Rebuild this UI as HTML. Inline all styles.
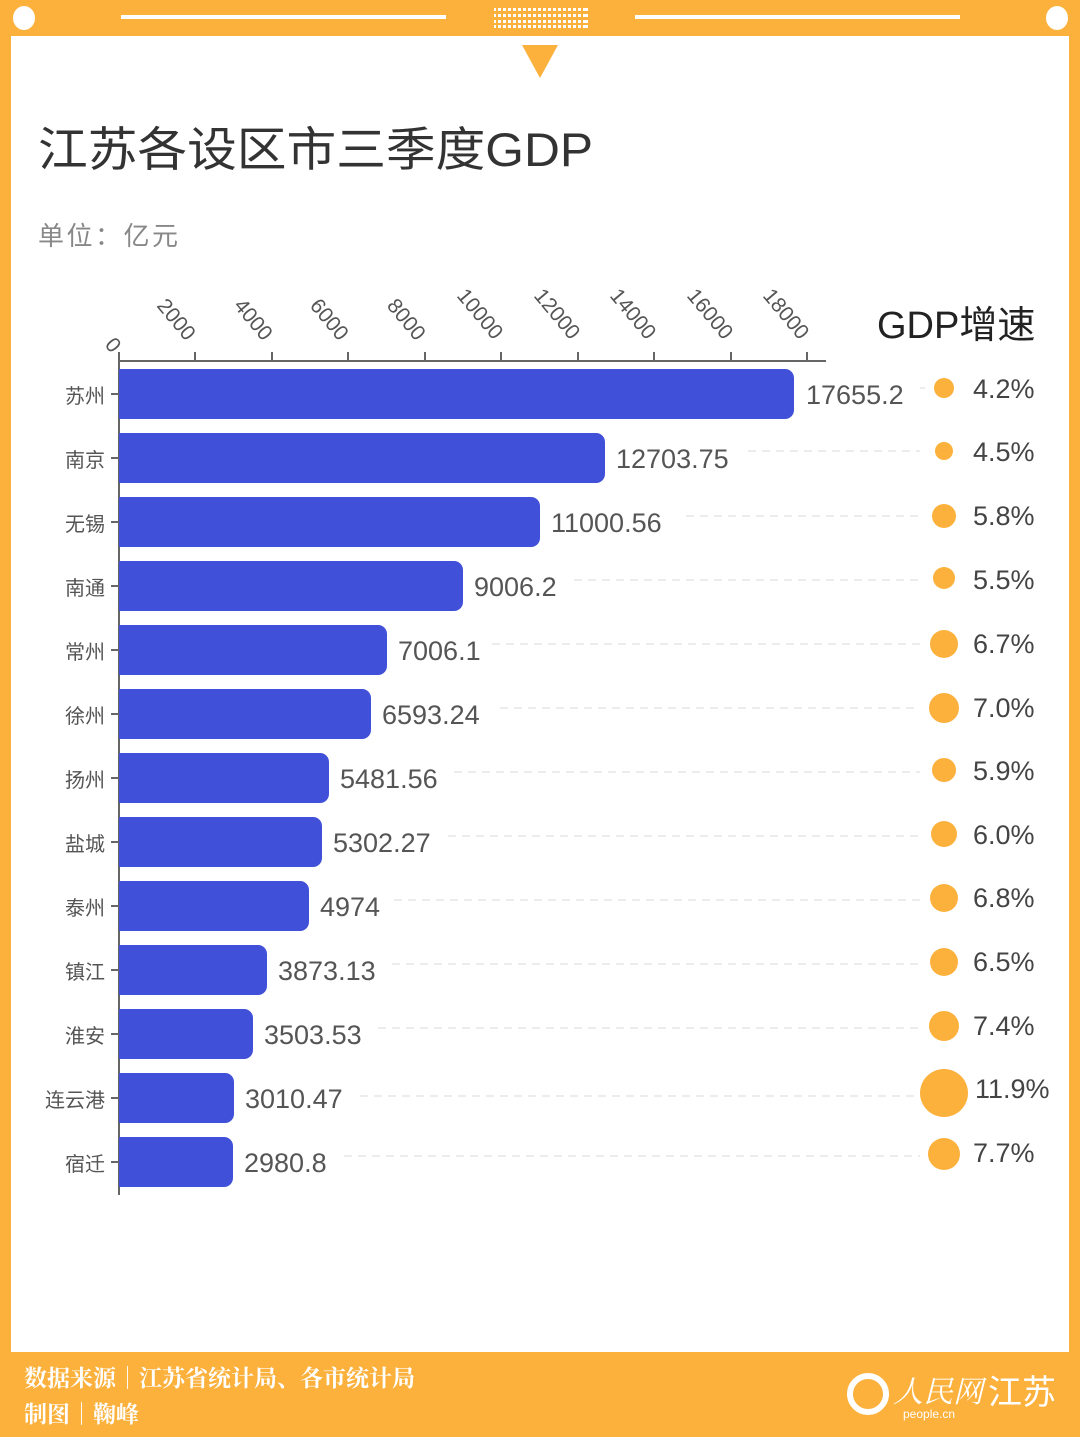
<!DOCTYPE html>
<html><head><meta charset="utf-8"><style>
body{margin:0;width:1080px;height:1437px;overflow:hidden;background:#fff;}
</style></head><body>
<svg width="1080" height="1437" xmlns="http://www.w3.org/2000/svg" style="font-family:'Liberation Sans','Noto Sans CJK SC',sans-serif">
<rect x="0" y="0" width="1080" height="1437" fill="#fbb13c"/>
<rect x="11" y="36" width="1058" height="1316" fill="#fff"/>
<ellipse cx="24" cy="18" rx="11" ry="12" fill="#fff"/>
<ellipse cx="1057" cy="18" rx="11" ry="12" fill="#fff"/>
<rect x="121" y="15" width="325" height="4" fill="#fff"/>
<rect x="635" y="15" width="325" height="4" fill="#fff"/>
<g fill="#fff">
<rect x="494" y="8" width="94" height="3"/><rect x="494" y="14" width="94" height="3"/><rect x="494" y="20" width="94" height="3"/><rect x="494" y="25" width="94" height="3"/>
</g>
<g stroke="#fbb13c" stroke-width="2">
<line x1="497" y1="6" x2="497" y2="30"/><line x1="502" y1="6" x2="502" y2="30"/><line x1="507" y1="6" x2="507" y2="30"/><line x1="512" y1="6" x2="512" y2="30"/><line x1="517" y1="6" x2="517" y2="30"/><line x1="522" y1="6" x2="522" y2="30"/><line x1="527" y1="6" x2="527" y2="30"/><line x1="532" y1="6" x2="532" y2="30"/><line x1="537" y1="6" x2="537" y2="30"/><line x1="542" y1="6" x2="542" y2="30"/><line x1="547" y1="6" x2="547" y2="30"/><line x1="552" y1="6" x2="552" y2="30"/><line x1="557" y1="6" x2="557" y2="30"/><line x1="562" y1="6" x2="562" y2="30"/><line x1="567" y1="6" x2="567" y2="30"/><line x1="572" y1="6" x2="572" y2="30"/><line x1="577" y1="6" x2="577" y2="30"/><line x1="582" y1="6" x2="582" y2="30"/>
</g>
<polygon points="522,45 558,45 540,78" fill="#fbb13c"/>
<text x="38" y="166" font-size="47" fill="#333" textLength="555" lengthAdjust="spacingAndGlyphs">江苏各设区市三季度GDP</text>
<text x="38" y="245" font-size="26" fill="#888" textLength="140">单位：亿元</text>
<text x="877" y="338" font-size="38" fill="#222">GDP增速</text>
<line x1="119" y1="361" x2="826" y2="361" stroke="#666" stroke-width="2"/>
<line x1="119" y1="361" x2="119" y2="1195" stroke="#666" stroke-width="2"/>
<g stroke="#666" stroke-width="2">
<line x1="119" y1="352" x2="119" y2="361"/><line x1="195" y1="352" x2="195" y2="361"/><line x1="272" y1="352" x2="272" y2="361"/><line x1="348" y1="352" x2="348" y2="361"/><line x1="425" y1="352" x2="425" y2="361"/><line x1="501" y1="352" x2="501" y2="361"/><line x1="578" y1="352" x2="578" y2="361"/><line x1="654" y1="352" x2="654" y2="361"/><line x1="731" y1="352" x2="731" y2="361"/><line x1="807" y1="352" x2="807" y2="361"/>
</g>
<g font-size="21" fill="#555">
<text transform="translate(104,345) rotate(50)">0</text>
<text transform="translate(156,306) rotate(50)">2000</text>
<text transform="translate(233,306) rotate(50)">4000</text>
<text transform="translate(309,306) rotate(50)">6000</text>
<text transform="translate(386,306) rotate(50)">8000</text>
<text transform="translate(456,296) rotate(50)">10000</text>
<text transform="translate(533,296) rotate(50)">12000</text>
<text transform="translate(609,296) rotate(50)">14000</text>
<text transform="translate(686,296) rotate(50)">16000</text>
<text transform="translate(762,296) rotate(50)">18000</text>
</g>
<g stroke="#d8d8d8" stroke-width="1" stroke-dasharray="8,6">
<line x1="925" y1="388" x2="920" y2="388"/>
<line x1="748" y1="451" x2="920" y2="451"/>
<line x1="686" y1="516" x2="920" y2="516"/>
<line x1="574" y1="580" x2="920" y2="580"/>
<line x1="492" y1="644" x2="920" y2="644"/>
<line x1="500" y1="708" x2="920" y2="708"/>
<line x1="454" y1="772" x2="920" y2="772"/>
<line x1="448" y1="836" x2="920" y2="836"/>
<line x1="394" y1="900" x2="920" y2="900"/>
<line x1="392" y1="964" x2="920" y2="964"/>
<line x1="378" y1="1028" x2="920" y2="1028"/>
<line x1="360" y1="1096" x2="920" y2="1096"/>
<line x1="344" y1="1156" x2="920" y2="1156"/>
</g>
<g fill="#4150d8">
<rect x="119" y="369" width="675" height="50" rx="9"/><rect x="119" y="369" width="20" height="50"/>
<rect x="119" y="433" width="486" height="50" rx="9"/><rect x="119" y="433" width="20" height="50"/>
<rect x="119" y="497" width="421" height="50" rx="9"/><rect x="119" y="497" width="20" height="50"/>
<rect x="119" y="561" width="344" height="50" rx="9"/><rect x="119" y="561" width="20" height="50"/>
<rect x="119" y="625" width="268" height="50" rx="9"/><rect x="119" y="625" width="20" height="50"/>
<rect x="119" y="689" width="252" height="50" rx="9"/><rect x="119" y="689" width="20" height="50"/>
<rect x="119" y="753" width="210" height="50" rx="9"/><rect x="119" y="753" width="20" height="50"/>
<rect x="119" y="817" width="203" height="50" rx="9"/><rect x="119" y="817" width="20" height="50"/>
<rect x="119" y="881" width="190" height="50" rx="9"/><rect x="119" y="881" width="20" height="50"/>
<rect x="119" y="945" width="148" height="50" rx="9"/><rect x="119" y="945" width="20" height="50"/>
<rect x="119" y="1009" width="134" height="50" rx="9"/><rect x="119" y="1009" width="20" height="50"/>
<rect x="119" y="1073" width="115" height="50" rx="9"/><rect x="119" y="1073" width="20" height="50"/>
<rect x="119" y="1137" width="114" height="50" rx="9"/><rect x="119" y="1137" width="20" height="50"/>
</g>
<g stroke="#666" stroke-width="2">
<line x1="111" y1="394" x2="119" y2="394"/><line x1="111" y1="458" x2="119" y2="458"/><line x1="111" y1="522" x2="119" y2="522"/><line x1="111" y1="586" x2="119" y2="586"/><line x1="111" y1="650" x2="119" y2="650"/><line x1="111" y1="714" x2="119" y2="714"/><line x1="111" y1="778" x2="119" y2="778"/><line x1="111" y1="842" x2="119" y2="842"/><line x1="111" y1="906" x2="119" y2="906"/><line x1="111" y1="970" x2="119" y2="970"/><line x1="111" y1="1034" x2="119" y2="1034"/><line x1="111" y1="1098" x2="119" y2="1098"/><line x1="111" y1="1162" x2="119" y2="1162"/>
</g>
<g font-size="20" fill="#555" text-anchor="end">
<text x="105" y="403">苏州</text><text x="105" y="467">南京</text><text x="105" y="531">无锡</text><text x="105" y="595">南通</text><text x="105" y="659">常州</text><text x="105" y="723">徐州</text><text x="105" y="787">扬州</text><text x="105" y="851">盐城</text><text x="105" y="915">泰州</text><text x="105" y="979">镇江</text><text x="105" y="1043">淮安</text><text x="105" y="1107">连云港</text><text x="105" y="1171">宿迁</text>
</g>
<g font-size="27" fill="#555">
<text x="806" y="404">17655.2</text>
<text x="616" y="468">12703.75</text>
<text x="551" y="532">11000.56</text>
<text x="474" y="596">9006.2</text>
<text x="398" y="660">7006.1</text>
<text x="382" y="724">6593.24</text>
<text x="340" y="788">5481.56</text>
<text x="333" y="852">5302.27</text>
<text x="320" y="916">4974</text>
<text x="278" y="980">3873.13</text>
<text x="264" y="1044">3503.53</text>
<text x="245" y="1108">3010.47</text>
<text x="244" y="1172">2980.8</text>
</g>
<g fill="#fbb13c">
<circle cx="944" cy="388" r="10"/>
<circle cx="944" cy="451" r="9"/>
<circle cx="944" cy="516" r="12"/>
<circle cx="944" cy="578" r="11"/>
<circle cx="944" cy="644" r="14"/>
<circle cx="944" cy="708" r="15"/>
<circle cx="944" cy="770" r="12"/>
<circle cx="944" cy="834" r="13"/>
<circle cx="944" cy="898" r="14"/>
<circle cx="944" cy="962" r="14"/>
<circle cx="944" cy="1026" r="15"/>
<circle cx="944" cy="1093" r="24"/>
<circle cx="944" cy="1154" r="16"/>
</g>
<g font-size="27" fill="#444">
<text x="973" y="398">4.2%</text>
<text x="973" y="461">4.5%</text>
<text x="973" y="525">5.8%</text>
<text x="973" y="589">5.5%</text>
<text x="973" y="653">6.7%</text>
<text x="973" y="717">7.0%</text>
<text x="973" y="780">5.9%</text>
<text x="973" y="844">6.0%</text>
<text x="973" y="907">6.8%</text>
<text x="973" y="971">6.5%</text>
<text x="973" y="1035">7.4%</text>
<text x="975" y="1098">11.9%</text>
<text x="973" y="1162">7.7%</text>
</g>
<g fill="#fff" font-weight="bold" font-family="'Noto Serif CJK SC','Noto Sans CJK SC',serif">
<text x="24" y="1386" font-size="23">数据来源｜江苏省统计局、各市统计局</text>
<text x="24" y="1422" font-size="23">制图｜鞠峰</text>
</g>
<circle cx="868" cy="1394" r="18" fill="none" stroke="#fff" stroke-width="6"/>
<text x="893" y="1402" font-size="30" fill="#fff" font-style="italic" font-family="'Noto Serif CJK SC',serif">人民网</text>
<text x="903" y="1418" font-size="12" fill="#fff">people.cn</text>
<text x="988" y="1404" font-size="34" fill="#fff">江苏</text>
</svg>
</body></html>
